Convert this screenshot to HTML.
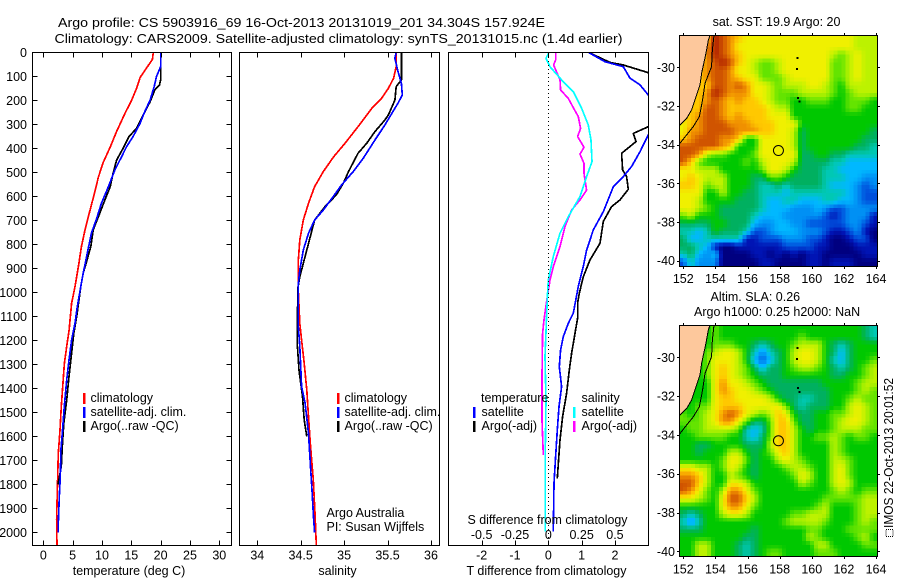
<!DOCTYPE html>
<html lang="en">
<head>
<meta charset="utf-8">
<title>Argo profile</title>
<style>
html,body{margin:0;padding:0;background:#fff;}
svg{display:block;}
text{font-family:"Liberation Sans",sans-serif;font-size:12.5px;fill:#000;}
.m{text-anchor:middle;}
.e{text-anchor:end;}
</style>
</head>
<body>
<svg id="chart" xmlns="http://www.w3.org/2000/svg" width="900" height="580" viewBox="0 0 900 580">
  <defs>
    <clipPath id="clip-temp"><rect x="32" y="52" width="199" height="493"/></clipPath>
    <clipPath id="clip-sal"><rect x="239" y="52" width="200" height="493"/></clipPath>
    <clipPath id="clip-diff"><rect x="448" y="52" width="200" height="493"/></clipPath>
    <clipPath id="clip-sst"><rect x="679" y="35" width="198" height="231"/></clipPath>
    <clipPath id="clip-sla"><rect x="679" y="325" width="198" height="231"/></clipPath>
  </defs>

  <g id="maps"></g>
  <g id="series"></g>
  <g id="axes"></g>

  <text x="58" y="27" textLength="487" lengthAdjust="spacingAndGlyphs">Argo profile: CS 5903916_69 16-Oct-2013 20131019_201 34.304S 157.924E</text>
  <text x="54.5" y="43" textLength="568" lengthAdjust="spacingAndGlyphs">Climatology: CARS2009. Satellite-adjusted climatology: synTS_20131015.nc (1.4d earlier)</text>

  <text class="m" x="129" y="575">temperature (deg C)</text>
  <text class="m" x="337.5" y="575">salinity</text>
  <text class="m" x="546.5" y="575" textLength="160" lengthAdjust="spacingAndGlyphs">T difference from climatology</text>
  <text class="m" x="547.5" y="524" textLength="160" lengthAdjust="spacingAndGlyphs">S difference from climatology</text>

  <g>
    <rect x="83" y="393" width="2.5" height="11" fill="#ff0000"/>
    <rect x="83" y="407" width="2.5" height="11" fill="#0000ff"/>
    <rect x="83" y="421" width="2.5" height="11" fill="#000000"/>
    <text x="90.5" y="402">climatology</text>
    <text x="90.5" y="416">satellite-adj. clim.</text>
    <text x="90.5" y="430">Argo(..raw -QC)</text>
  </g>
  <g>
    <rect x="337" y="393" width="2.5" height="11" fill="#ff0000"/>
    <rect x="337" y="407" width="2.5" height="11" fill="#0000ff"/>
    <rect x="337" y="421" width="2.5" height="11" fill="#000000"/>
    <text x="344.5" y="402">climatology</text>
    <text x="344.5" y="416">satellite-adj. clim.</text>
    <text x="344.5" y="430">Argo(..raw -QC)</text>
  </g>
  <g>
    <text x="481" y="402">temperature</text>
    <rect x="473" y="407" width="2.5" height="11" fill="#0000ff"/>
    <rect x="473" y="421" width="2.5" height="11" fill="#000000"/>
    <text x="481.5" y="416">satellite</text>
    <text x="481.5" y="430">Argo(-adj)</text>
    <text x="581.5" y="402">salinity</text>
    <rect x="573" y="407" width="2.5" height="11" fill="#00ffff"/>
    <rect x="573" y="421" width="2.5" height="11" fill="#ff00ff"/>
    <text x="581.5" y="416">satellite</text>
    <text x="581.5" y="430">Argo(-adj)</text>
  </g>

  <text x="326.5" y="517">Argo Australia</text>
  <text x="326.5" y="531">PI: Susan Wijffels</text>

  <text class="m" x="776.5" y="26">sat. SST: 19.9 Argo: 20</text>
  <text x="710.5" y="301">Altim. SLA: 0.26</text>
  <text x="694" y="316">Argo h1000: 0.25 h2000: NaN</text>

  <rect x="886" y="529.5" width="7" height="7" fill="none" stroke="#000" stroke-width="1" stroke-dasharray="1 1"/>
  <text transform="translate(893 528) rotate(-90)" textLength="150" lengthAdjust="spacingAndGlyphs">IMOS 22-Oct-2013 20:01:52</text>
</svg>

<script>
// ---- Axis tick values ----
const depthTicks = [0,100,200,300,400,500,600,700,800,900,1000,1100,1200,1300,1400,1500,1600,1700,1800,1900,2000];
const tempTicks = [0,5,10,15,20,25,30];
const salTicks = [34,34.5,35,35.5,36];
const tDiffTicks = [-2,-1,0,1,2];
const sDiffTicks = [-0.5,-0.25,0,0.25,0.5];
const lonTicks = [152,154,156,158,160,162,164];
const latTicks = [-30,-32,-34,-36,-38,-40];

// ---- Temperature profiles ----
const tempClimDepth = [0,30,65,105,150,200,255,330,395,460,520,590,660,740,810,890,976,1046,1157,1226,1296,1393,1476,1574,1671,1782,1948,2052];
const tempClimValue = [18.75,18.6,17.6,16.5,15.9,15.05,13.9,12.5,11.4,10.2,9.4,8.7,7.95,7.1,6.5,6.0,5.4,4.83,4.4,3.98,3.6,3.3,3.07,2.84,2.56,2.44,2.27,2.33];
const tempSatDepth = [0,60,101,143,199,247,296,351,393,435,490,560,629,692,754,837,921,976,1060,1129,1199,1282,1365,1476,1588,1657,1768,1851,1962,2001];
const tempSatValue = [20,20,19.3,18.9,18.2,17.3,16.5,15.3,14.2,13.35,12.2,11.1,9.9,9.1,8.2,7.5,6.8,6.4,5.8,5.4,4.83,4.38,3.98,3.58,3.24,3.0,2.9,2.73,2.56,2.56];
const tempArgoDepth = [0,115,136,157,206,261,317,351,400,449,504,560,615,685,740,810,879,921,976,1101,1171,1254,1351,1449,1546,1643,1726,1800];
const tempArgoValue = [20,20,19.8,19.0,18.2,17.05,15.9,14.6,13.6,12.5,11.9,11.4,10.5,9.4,8.5,8.1,7.3,6.8,6.4,5.7,5.2,4.83,4.38,3.98,3.5,3.24,3.07,2.5];

// ---- Salinity profiles ----
const salClimDepth = [0,60,108,150,192,233,310,379,435,497,560,629,699,782,879,976,1129,1199,1296,1407,1518,1629,1782,1921,2052];
const salClimValue = [35.6,35.6,35.57,35.51,35.43,35.32,35.16,35.01,34.88,34.76,34.66,34.59,34.53,34.49,34.47,34.47,34.49,34.51,34.54,34.57,34.59,34.61,34.645,34.665,34.68];
const salSatDepth = [0,25,80,129,178,212,254,303,365,442,497,553,601,657,699,754,824,907,976,1129,1226,1393,1462,1588,1713,1824,1949,2001];
const salSatValue = [35.6,35.585,35.62,35.66,35.67,35.62,35.55,35.47,35.355,35.22,35.105,34.97,34.875,34.76,34.66,34.59,34.53,34.49,34.47,34.47,34.49,34.51,34.55,34.59,34.61,34.63,34.65,34.66];
const salArgoDepth = [0,115,143,199,261,282,330,379,421,497,546,594,643,699,768,851,935,976,1129,1212,1324,1435,1532,1601];
const salArgoValue = [35.66,35.66,35.6,35.585,35.51,35.47,35.355,35.26,35.16,35.05,34.99,34.91,34.78,34.66,34.61,34.55,34.49,34.47,34.46,34.46,34.48,34.52,34.54,34.57];

// ---- Differences from climatology ----
const tDiffSatDepth = [0,39,60,108,136,178,250,344,414,476,518,560,664,740,824,893,976,1087,1129,1185,1240,1310,1393,1476,1574,1685,1796,1997];
const tDiffSatValue = [1.2,1.7,2.25,2.45,2.75,3.0,3.2,3.0,2.75,2.5,2.25,1.95,1.65,1.35,1.15,1.05,0.9,0.75,0.6,0.45,0.37,0.33,0.4,0.32,0.27,0.22,0.17,0.15];
const tDiffArgoDepth = [0,42,53,85,150,250,310,338,372,421,490,518,571,615,643,705,796,865,935,1004,1046,1108,1171,1254,1324,1421,1518,1615,1775];
const tDiffArgoValue = [1.2,1.85,2.25,3.0,3.5,3.5,3.0,2.55,2.63,2.2,2.23,2.35,2.4,2.15,1.9,1.65,1.55,1.25,1.05,0.93,0.88,0.88,0.8,0.7,0.63,0.55,0.43,0.35,0.27];
const sDiffArgoDepth = [0,32,53,115,157,192,233,268,317,351,396,424,463,504,574,615,657,726,810,893,949,1018,1115,1171,1351,1532,1678];
const sDiffArgoValue = [0.055,0.055,0.04,0.0875,0.0925,0.15,0.19,0.225,0.2425,0.22,0.2675,0.2375,0.2675,0.2675,0.2875,0.2375,0.175,0.125,0.0875,0.0375,0.0125,-0.0075,-0.0325,-0.0425,-0.0475,-0.0475,-0.0375];
const sDiffSatDepth = [0,25,60,115,164,233,303,365,456,518,601,685,754,851,949,1025,1101,1268,1449,1657,1824,1997];
const sDiffSatValue = [0.005,-0.0175,0.0125,0.1,0.1875,0.25,0.3,0.32,0.3275,0.2875,0.2375,0.15,0.0875,0.0375,0,-0.0075,-0.0125,-0.025,-0.0175,-0.0225,-0.0225,-0.0225];

// ---- Map data: colour-level cells, north to south, west to east ----
const gridLonStart = 151.75;
const gridLonStep = 0.493;
const gridLatStart = -28.35;
const gridLatStep = -0.397;
const levelColors = ["#000080","#0014b4","#0050dc","#0090f4","#00b8ff","#00c8b4","#00b060","#00c800","#64e400","#bcf200","#f0f000","#ffc800","#f09000","#d05400","#b02000"];

const sstGrid = [
[11,11,11,11,14,13,12,11,10,10,10,10,10,10,10,10,10,10,10,10,10,10,9,9,9],
[11,11,11,12,14,13,12,10,10,10,10,10,10,10,10,10,10,10,10,10,10,10,9,9,9],
[11,11,11,12,14,13,12,11,10,10,10,10,10,10,10,10,10,10,10,9,8,9,10,9,9],
[11,11,11,12,13,14,13,11,10,9,8,8,9,10,10,10,10,10,10,8,8,9,10,9,9],
[11,11,11,12,13,13,12,10,10,9,8,8,9,10,10,10,10,10,10,8,8,9,10,9,9],
[11,11,11,12,13,13,12,11,10,10,8,8,8,9,10,10,10,10,10,8,8,9,10,9,9],
[11,11,11,11,13,13,12,13,12,10,10,9,8,9,9,9,10,10,9,8,7,9,9,9,9],
[11,11,11,12,14,13,12,12,12,10,10,9,8,8,8,9,9,9,9,8,7,8,9,9,9],
[11,11,11,12,13,12,11,12,11,11,10,9,8,8,7,7,8,8,8,7,7,8,8,8,7],
[11,11,11,13,13,12,11,11,11,11,11,10,9,9,7,7,7,7,7,7,7,8,8,7,7],
[11,11,12,13,13,12,11,12,11,11,11,10,10,10,7,7,7,7,7,7,7,7,7,7,7],
[10,11,12,13,13,13,12,12,12,11,11,11,10,10,10,7,7,7,7,7,7,7,7,7,7],
[10,12,12,13,13,13,13,12,12,12,11,11,10,10,9,6,7,7,7,7,7,7,7,7,6],
[11,12,13,13,13,12,12,11,7,7,10,10,10,10,9,6,7,7,7,7,7,7,7,6,6],
[13,13,13,13,13,12,11,7,7,7,10,10,10,10,9,6,7,7,7,7,7,7,6,6,5],
[13,13,12,9,8,8,7,7,7,8,10,10,10,10,10,6,6,7,7,6,6,5,5,5,5],
[13,11,8,7,7,7,7,7,8,7,9,10,10,10,9,6,6,6,6,5,5,4,4,4,4],
[10,10,9,9,9,7,7,7,7,7,8,10,10,9,7,6,6,6,5,5,4,4,4,4,4],
[10,11,10,9,9,9,7,7,7,6,6,8,8,7,6,6,6,6,5,5,5,4,4,3,3],
[11,11,10,8,9,9,7,7,7,6,5,5,6,5,6,6,6,6,5,4,4,4,3,2,3],
[10,10,10,7,7,9,7,7,6,6,5,5,5,4,5,5,5,5,5,5,5,4,3,2,2],
[10,10,9,7,7,7,7,6,6,6,5,4,4,5,5,4,4,4,5,5,4,4,3,2,2],
[10,10,9,8,7,6,6,6,6,6,5,4,4,4,3,3,3,4,3,2,2,3,3,3,3],
[8,9,7,7,7,6,6,6,6,5,4,4,4,3,3,3,3,3,2,1,2,3,3,3,1],
[6,6,6,6,7,7,6,6,6,4,3,3,4,4,3,3,2,2,2,2,2,3,3,2,1],
[5,5,4,5,7,6,6,6,5,2,2,3,4,4,4,3,3,3,2,1,1,2,3,1,0],
[6,4,4,5,5,5,5,5,1,1,2,2,2,3,3,3,2,2,1,0,0,1,2,2,0],
[6,6,5,4,1,0,0,1,1,1,1,1,1,2,2,2,2,1,1,0,0,0,1,1,1],
[5,6,4,3,4,0,0,0,0,1,1,0,1,0,1,0,1,1,0,0,0,0,0,1,1],
[2,5,3,3,3,0,0,0,0,0,1,1,0,0,0,0,1,1,0,1,1,1,0,0,0]
];

const slaGrid = [
[7,7,7,7,8,7,7,7,7,7,7,7,7,7,7,7,7,7,7,7,7,7,7,6,5],
[7,7,7,7,8,7,7,7,7,7,7,7,7,7,7,8,7,7,7,7,7,7,7,6,5],
[7,7,7,7,8,8,8,7,7,6,5,6,7,7,8,9,9,9,7,6,5,6,7,7,7],
[7,7,7,8,9,10,10,9,7,5,3,5,6,7,9,10,10,9,7,6,4,6,7,7,7],
[7,7,7,8,10,10,10,9,7,4,2,4,6,7,9,10,10,9,7,5,4,6,7,7,8],
[7,7,7,8,10,11,10,9,8,6,4,6,6,7,8,9,9,8,7,6,5,6,7,8,9],
[7,7,7,8,10,11,10,9,8,7,6,6,6,7,7,7,7,7,7,6,6,7,7,8,9],
[7,7,7,7,10,12,10,10,9,8,7,6,6,6,6,6,6,6,7,7,7,7,8,9,9],
[7,7,7,7,10,12,11,10,10,9,8,7,6,6,6,6,6,6,6,7,7,7,8,9,8],
[7,7,7,7,10,11,11,10,10,10,10,9,7,6,6,5,5,6,6,7,7,8,9,8,8],
[7,7,8,8,10,11,11,11,10,10,10,10,10,8,6,5,6,6,6,7,7,9,10,9,8],
[8,7,8,9,10,12,13,12,10,9,8,9,11,10,7,6,6,7,7,8,8,9,10,9,8],
[8,8,8,9,10,12,12,10,8,6,6,8,11,11,8,6,6,7,7,8,9,10,10,9,8],
[7,8,8,9,9,9,9,8,5,4,5,8,11,11,9,7,6,7,7,8,9,9,9,8,8],
[7,7,8,8,8,8,7,7,5,4,6,8,11,11,9,7,7,8,8,9,8,7,8,8,7],
[7,7,6,6,7,7,7,7,6,6,6,9,11,11,9,7,7,7,7,9,8,7,7,7,7],
[7,7,6,7,7,7,9,9,7,6,7,8,10,11,9,7,7,7,7,9,8,7,7,7,7],
[7,7,7,7,7,8,10,10,8,6,7,7,9,10,9,8,7,7,7,9,9,8,7,7,7],
[10,10,9,9,7,8,10,9,7,6,7,7,7,8,9,9,8,7,7,9,10,8,7,7,7],
[12,12,11,9,7,7,9,8,7,6,7,7,7,7,8,10,9,7,7,9,10,8,7,7,7],
[13,13,11,9,7,7,10,10,9,7,7,7,7,7,7,9,8,7,7,9,10,9,7,7,7],
[13,12,10,8,7,9,12,12,10,8,7,7,7,7,7,7,7,7,7,8,9,8,7,8,8],
[10,10,9,8,7,10,13,13,11,9,7,7,7,7,7,7,7,7,8,8,8,8,8,9,9],
[7,7,7,7,7,10,12,12,10,8,7,7,7,7,7,7,7,8,9,7,7,7,8,9,9],
[6,5,6,7,7,9,10,10,9,7,7,7,7,7,8,8,9,9,9,7,7,7,8,9,9],
[5,3,5,7,7,7,7,7,7,7,7,7,7,8,9,9,9,9,8,7,7,7,8,9,8],
[6,6,6,7,7,7,7,7,7,6,7,7,7,7,7,7,8,8,7,7,7,8,8,8,8],
[7,7,7,7,7,7,7,7,6,6,7,7,7,7,7,7,9,8,7,7,7,7,8,9,7],
[7,7,9,9,7,7,7,6,5,6,7,7,7,7,7,7,7,9,9,7,7,7,7,8,8],
[7,7,9,9,7,7,7,6,5,6,7,8,8,7,7,7,7,8,8,8,7,7,7,7,7]
];

const coastLon = [153.66,153.56,153.41,153.14,153.04,152.79,152.52,152.21,151.79];
const coastLat = [-28.35,-28.59,-29.28,-30.31,-30.91,-31.52,-32.2,-32.64,-32.98];
const isobathLon = [153.91,153.81,153.76,153.35,153.2,153.0,152.62,152.2,151.79];
const isobathLat = [-28.35,-29.1,-29.97,-30.83,-31.69,-32.55,-33.07,-33.5,-33.93];
const islandLon = [159.07,159.05,159.1,159.2];
const islandLat = [-29.5,-30.05,-31.55,-31.75];
const argoLon = 157.924;
const argoLat = -34.304;

// ---- Axis functions ----
function yDepth(d){ return 52.3 + d * 0.24; }
function xTemp(v){ return 43.3 + v * 5.867; }
function xSal(v){ return 257.3 + (v - 34) * 86.83; }
function xTDiff(v){ return 548.3 + v * 33.33; }
function xSDiff(v){ return 548.3 + v * 133.3; }
function xLon(v){ return 683.3 + (v - 152) * 16.06; }
function ySstLat(v){ return 67.3 + (-30 - v) * 19.34; }
function ySlaLat(v){ return 357.3 + (-30 - v) * 19.4; }

const NS = "http://www.w3.org/2000/svg";
const seriesLayer = document.getElementById("series");
const axesLayer = document.getElementById("axes");
const mapsLayer = document.getElementById("maps");

function svgEl(tag, attrs, parent){
  const el = document.createElementNS(NS, tag);
  for (const k in attrs) el.setAttribute(k, attrs[k]);
  parent.appendChild(el);
  return el;
}

function drawProfile(depths, values, xFn, color, clipId, label, width){
  const pts = depths.map(function(d, i){ return xFn(values[i]).toFixed(1) + "," + yDepth(d).toFixed(1); }).join(" ");
  const el = svgEl("polyline", {points: pts, fill: "none", stroke: color, "stroke-width": width, "clip-path": "url(#" + clipId + ")", "shape-rendering": "crispEdges", "stroke-linejoin": "round"}, seriesLayer);
  
  
}

drawProfile(tempClimDepth, tempClimValue, xTemp, "#ff0000", "clip-temp", "temperature-climatology-line", 1.7);
drawProfile(tempArgoDepth, tempArgoValue, xTemp, "#000000", "clip-temp", "temperature-argo-line", 1.7);
drawProfile(tempSatDepth, tempSatValue, xTemp, "#0000ff", "clip-temp", "temperature-satellite-line", 1.7);
drawProfile(salClimDepth, salClimValue, xSal, "#ff0000", "clip-sal", "salinity-climatology-line", 1.7);
drawProfile(salArgoDepth, salArgoValue, xSal, "#000000", "clip-sal", "salinity-argo-line", 1.7);
drawProfile(salSatDepth, salSatValue, xSal, "#0000ff", "clip-sal", "salinity-satellite-line", 1.7);
drawProfile(tDiffArgoDepth, tDiffArgoValue, xTDiff, "#000000", "clip-diff", "t-difference-argo-line", 1.7);
drawProfile(tDiffSatDepth, tDiffSatValue, xTDiff, "#0000ff", "clip-diff", "t-difference-satellite-line", 1.7);
drawProfile(sDiffArgoDepth, sDiffArgoValue, xSDiff, "#ff00ff", "clip-diff", "s-difference-argo-line", 1.7);
drawProfile(sDiffSatDepth, sDiffSatValue, xSDiff, "#00ffff", "clip-diff", "s-difference-satellite-line", 1.7);

function drawTick(x1, y1, x2, y2, label){
  const el = svgEl("line", {x1: x1, y1: y1, x2: x2, y2: y2, stroke: "#000", "stroke-width": 1, "shape-rendering": "crispEdges"}, axesLayer);
  
  
}

function drawLabel(x, y, str, cls, label){
  const el = svgEl("text", {x: x, y: y, "class": cls}, axesLayer);
  el.textContent = str;
  
  
}

function drawFrame(x, y, w, h, label){
  const el = svgEl("rect", {x: x, y: y, width: w, height: h, fill: "none", stroke: "#000", "stroke-width": 1, "shape-rendering": "crispEdges"}, axesLayer);
  
  
}

function drawXTicks(ticks, xFn, label){
  ticks.forEach(function(t){
    const x = Math.round(xFn(t)) + 0.5;
    drawTick(x, 52.5, x, 57.5, label + "-top-tick");
    drawTick(x, 540.5, x, 545.5, label + "-bottom-tick");
    drawLabel(xFn(t), 559.5, String(t), "m", label + "-tick-label");
  });
}

drawFrame(32.5, 52.5, 199, 493, "temperature-axes-frame");
drawFrame(239.5, 52.5, 200, 493, "salinity-axes-frame");
drawFrame(448.5, 52.5, 200, 493, "difference-axes-frame");
drawXTicks(tempTicks, xTemp, "temperature-axis");
drawXTicks(salTicks, xSal, "salinity-axis");
drawXTicks(tDiffTicks, xTDiff, "t-difference-axis");

sDiffTicks.forEach(function(t){
  drawLabel(xSDiff(t), 539, String(t), "m", "s-difference-tick-label");
});

depthTicks.forEach(function(d){
  const y = Math.round(yDepth(d)) + 0.5;
  drawTick(32.5, y, 37.5, y, "depth-left-tick");
  drawTick(226.5, y, 231.5, y, "depth-right-tick");
  drawLabel(27, yDepth(d) + 4.5, String(d), "e", "depth-tick-label");
});

const zeroLine = svgEl("line", {x1: xTDiff(0), y1: 53, x2: xTDiff(0), y2: 545, stroke: "#000", "stroke-width": 1, "stroke-dasharray": "1 3", "shape-rendering": "crispEdges"}, axesLayer);



// Colour for a fractional level: blend between neighbouring palette entries.
function hexToRgb(h){
  return [parseInt(h.substr(1,2),16), parseInt(h.substr(3,2),16), parseInt(h.substr(5,2),16)];
}
function levelToColor(level){
  const top = levelColors.length - 1;
  const v = Math.max(0, Math.min(top, level));
  const lo = Math.floor(v);
  const hi = Math.min(top, lo + 1);
  const f = v - lo;
  const a = hexToRgb(levelColors[lo]);
  const b = hexToRgb(levelColors[hi]);
  return "rgb(" + Math.round(a[0] + (b[0]-a[0])*f) + "," + Math.round(a[1] + (b[1]-a[1])*f) + "," + Math.round(a[2] + (b[2]-a[2])*f) + ")";
}
// Read the grid at fractional row/column (values sit at cell centres).
function sampleGrid(grid, r, c){
  const rows = grid.length, cols = grid[0].length;
  const rr = Math.max(0, Math.min(rows - 1, r));
  const cc = Math.max(0, Math.min(cols - 1, c));
  const r0 = Math.floor(rr), r1 = Math.min(rows - 1, r0 + 1);
  const c0 = Math.floor(cc), c1 = Math.min(cols - 1, c0 + 1);
  const fr = rr - r0, fc = cc - c0;
  return (grid[r0][c0]*(1-fc) + grid[r0][c1]*fc)*(1-fr) + (grid[r1][c0]*(1-fc) + grid[r1][c1]*fc)*fr;
}

function drawMap(grid, yLat, clipId, prefix, frameY, xLabelY){
  const g = svgEl("g", {"clip-path": "url(#" + clipId + ")"}, mapsLayer);
  
  

  const sub = 2;
  for (let j = 0; j < grid.length * sub; j++){
    for (let i = 0; i < grid[0].length * sub; i++){
      const level = sampleGrid(grid, (j + 0.5) / sub - 0.5, (i + 0.5) / sub - 0.5);
      const x0 = xLon(gridLonStart + (i / sub) * gridLonStep);
      const x1 = xLon(gridLonStart + ((i + 1) / sub) * gridLonStep);
      const y0 = yLat(gridLatStart + (j / sub) * gridLatStep);
      const y1 = yLat(gridLatStart + ((j + 1) / sub) * gridLatStep);
      const cell = svgEl("rect", {x: x0.toFixed(1), y: y0.toFixed(1), width: (x1 - x0 + 0.5).toFixed(1), height: (y1 - y0 + 0.5).toFixed(1), fill: levelToColor(level), "shape-rendering": "crispEdges"}, g);
      
      
    }
  }

  const landPts = [];
  landPts.push(xLon(gridLonStart) + "," + yLat(gridLatStart));
  coastLon.forEach(function(lon, i){ landPts.push(xLon(lon) + "," + yLat(coastLat[i])); });
  const land = svgEl("polygon", {points: landPts.join(" "), fill: "#fdc89c", "shape-rendering": "crispEdges"}, g);
  
  

  const coast = svgEl("polyline", {points: coastLon.map(function(lon, i){ return xLon(lon) + "," + yLat(coastLat[i]); }).join(" "), fill: "none", stroke: "#000", "stroke-width": 1, "shape-rendering": "crispEdges"}, g);
  
  

  const iso = svgEl("polyline", {points: isobathLon.map(function(lon, i){ return xLon(lon) + "," + yLat(isobathLat[i]); }).join(" "), fill: "none", stroke: "#000", "stroke-width": 1, "shape-rendering": "crispEdges"}, g);
  
  

  islandLon.forEach(function(lon, i){
    const dot = svgEl("rect", {x: xLon(lon) - 0.5, y: yLat(islandLat[i]) - 0.5, width: 2, height: 2, fill: "#000", "shape-rendering": "crispEdges"}, g);
    
    
  });

  const circle = svgEl("circle", {cx: xLon(argoLon), cy: yLat(argoLat), r: 5, fill: "none", stroke: "#000", "stroke-width": 1}, g);
  
  

  drawFrame(679.5, frameY + 0.5, 198, 231, prefix + "-map-frame");

  lonTicks.forEach(function(t){
    const x = Math.round(xLon(t)) + 0.5;
    drawTick(x, frameY - 2, x, frameY, prefix + "-lon-top-tick");
    drawTick(x, frameY + 231, x, frameY + 234, prefix + "-lon-bottom-tick");
    drawLabel(xLon(t), xLabelY, String(t), "m", prefix + "-lon-tick-label");
  });
  latTicks.forEach(function(t){
    const y = Math.round(yLat(t)) + 0.5;
    drawTick(677, y, 679.5, y, prefix + "-lat-left-tick");
    drawTick(877.5, y, 880, y, prefix + "-lat-right-tick");
    drawLabel(675, yLat(t) + 4.5, String(t), "e", prefix + "-lat-tick-label");
  });
}

drawMap(sstGrid, ySstLat, "clip-sst", "sst", 35, 283);
drawMap(slaGrid, ySlaLat, "clip-sla", "sla", 325, 573.5);
</script>
</body>
</html>
